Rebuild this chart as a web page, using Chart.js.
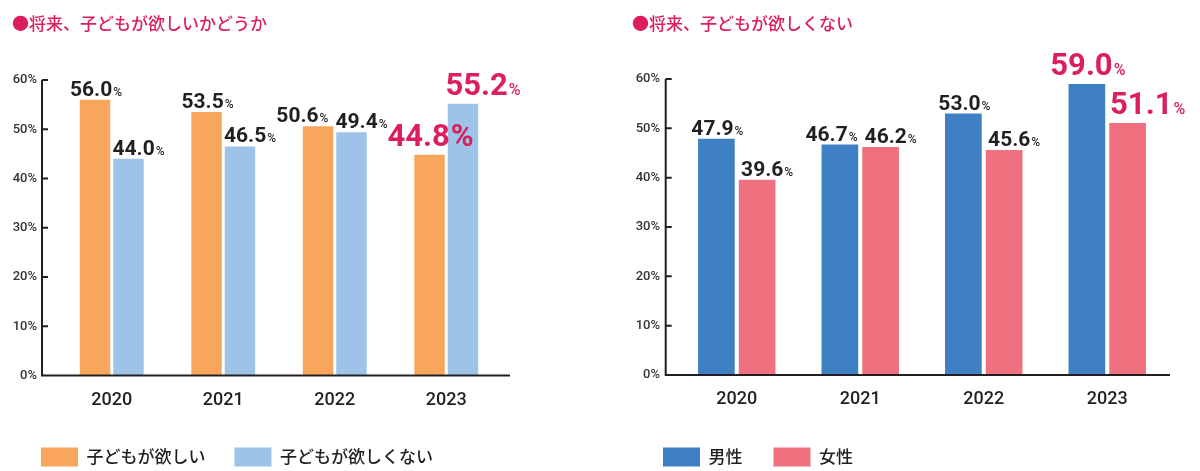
<!DOCTYPE html>
<html>
<head>
<meta charset="utf-8">
<script src="https://cdn.jsdelivr.net/npm/chart.js@4.4.1/dist/chart.umd.min.js"></script>
<style>
  body { margin: 0; background: #fff; width: 1200px; height: 471px; overflow: hidden; }
  .wrap { position: absolute; top: 0; width: 600px; height: 471px; }
</style>
</head>
<body>
<div class="wrap" style="left:0"><canvas id="wantChart" width="600" height="471"></canvas></div>
<div class="wrap" style="left:600px"><canvas id="notWantChart" width="600" height="471"></canvas></div>
<script>
// data
const years = ["2020", "2021", "2022", "2023"];

const wantTitle = "●将来、子どもが欲しいかどうか";
const wantSeries = ["子どもが欲しい", "子どもが欲しくない"];
const wantYes = [56.0, 53.5, 50.6, 44.8];
const wantNo = [44.0, 46.5, 49.4, 55.2];

const notWantTitle = "●将来、子どもが欲しくない";
const notWantSeries = ["男性", "女性"];
const notWantMale = [47.9, 46.7, 53.0, 59.0];
const notWantFemale = [39.6, 46.2, 45.6, 51.1];

const yMax = 60;
const yStep = 10;

const INK = "#231f20";
const RED = "#dc1f5c";
const NUM_FONT = "Roboto, 'Liberation Sans', sans-serif";
const JP_FONT = "'Noto Sans CJK JP', 'Noto Sans', sans-serif";

// axis lines (they stick out past the bars) + value labels
const axisAndLabels = {
  id: "axisAndLabels",
  afterDatasetsDraw(chart, args, opts) {
    const ctx = chart.ctx;
    const y = chart.scales.y;
    const a = chart.chartArea;
    const x0 = a.left + opts.axisLeft;
    const x1 = a.right + opts.axisRight;
    const base = y.getPixelForValue(0);

    ctx.save();
    ctx.strokeStyle = INK;
    ctx.lineWidth = 2;
    ctx.beginPath();
    ctx.moveTo(x0, y.getPixelForValue(yMax));
    ctx.lineTo(x0, base);
    ctx.lineTo(x1, base);
    y.ticks.forEach(t => {
      const py = y.getPixelForValue(t.value);
      ctx.moveTo(x0, py);
      ctx.lineTo(x0 + 6, py);
    });
    ctx.stroke();

    // measure every label first
    const labels = chart.data.datasets.map((ds, di) =>
      chart.getDatasetMeta(di).data.map((bar, i) => {
        const hot = i === opts.hotIndex;
        const bigPct = hot && opts.bigPctSet === di;
        const numSize = hot ? 31 : 21;
        const pctSize = bigPct ? 31 : (hot ? 16 : 12);
        const num = ds.data[i].toFixed(1);
        ctx.font = `bold ${numSize}px ${NUM_FONT}`;
        const wN = ctx.measureText(num).width;
        ctx.font = `${bigPct ? "bold" : "500"} ${pctSize}px ${NUM_FONT}`;
        const wP = ctx.measureText("%").width;
        const w = wN + wP + 1;
        const shift = di === 0 ? 1 : (hot ? 20 : 10);
        return {
          hot, bigPct, numSize, pctSize, num, wN, w,
          x: bar.x + shift - w / 2,
          y: bar.y - (hot ? 9 : 4)
        };
      })
    );

    // push the first label left when two labels sit side by side and touch
    if (labels.length === 2) {
      labels[0].forEach((l0, i) => {
        const l1 = labels[1][i];
        if (Math.abs(l0.y - l1.y) < 18 && l0.x + l0.w + 7 > l1.x) {
          l0.x = l1.x - 7 - l0.w;
        }
      });
    }

    labels.forEach(row => row.forEach(l => {
      ctx.fillStyle = l.hot ? RED : INK;
      ctx.textAlign = "left";
      ctx.textBaseline = "alphabetic";
      ctx.font = `bold ${l.numSize}px ${NUM_FONT}`;
      ctx.fillText(l.num, l.x, l.y);
      ctx.font = `${l.bigPct ? "bold" : "500"} ${l.pctSize}px ${NUM_FONT}`;
      ctx.fillText("%", l.x + l.wN + 1, l.y);
    }));
    ctx.restore();
  }
};

function makeChart(id, title, names, series, colors, lay) {
  return new Chart(document.getElementById(id), {
    type: "bar",
    data: {
      labels: years,
      datasets: series.map((d, k) => ({
        label: names[k],
        data: d,
        backgroundColor: colors[k],
        borderWidth: 0,
        categoryPercentage: lay.cat,
        barPercentage: lay.bar
      }))
    },
    options: {
      responsive: false,
      animation: false,
      layout: { padding: { left: lay.left, right: lay.right, top: 0, bottom: -5.5 } },
      scales: {
        x: {
          grid: { display: false, drawTicks: false },
          border: { display: false },
          ticks: { color: INK, padding: 14, font: { family: NUM_FONT, size: 18, weight: "500" } },
          afterFit: s => { s.height = lay.xh; }
        },
        y: {
          min: 0,
          max: yMax,
          grid: { display: false, drawTicks: false },
          border: { display: false },
          ticks: {
            stepSize: yStep,
            padding: lay.tickPad,
            color: "#333",
            font: { family: NUM_FONT, size: 13, weight: "500" },
            callback: v => v + "%"
          },
          afterFit: s => { s.width = lay.yw; }
        }
      },
      plugins: {
        title: {
          display: true,
          text: title,
          align: "start",
          color: RED,
          font: { family: JP_FONT, size: 17, weight: "500" },
          padding: { top: 13, bottom: lay.titleGap }
        },
        legend: {
          position: "bottom",
          align: "start",
          labels: {
            boxWidth: 37,
            boxHeight: 19,
            padding: lay.legPad,
            color: INK,
            font: { family: JP_FONT, size: 17, weight: "500" }
          }
        },
        tooltip: { enabled: false },
        axisAndLabels: { axisLeft: lay.axisLeft, axisRight: lay.axisRight, hotIndex: 3, bigPctSet: lay.bigPctSet }
      }
    },
    plugins: [axisAndLabels]
  });
}

makeChart("wantChart", wantTitle, wantSeries, [wantYes, wantNo], ["#f7a65c", "#9dc3e8"], {
  left: 12, right: 98, yw: 44, tickPad: 19, xh: 43, legPad: 29, titleGap: 46.6,
  cat: 0.60, bar: 0.91, axisLeft: -14, axisRight: 8, bigPctSet: 0
});

makeChart("notWantChart", notWantTitle, notWantSeries, [notWantMale, notWantFemale], ["#3f7fc3", "#ef717f"], {
  left: 32, right: 31, yw: 43, tickPad: 15, xh: 41.5, legPad: 31, titleGap: 45.6,
  cat: 0.66, bar: 0.90, axisLeft: -9.3, axisRight: 1, bigPctSet: -1
});
</script>
</body>
</html>
